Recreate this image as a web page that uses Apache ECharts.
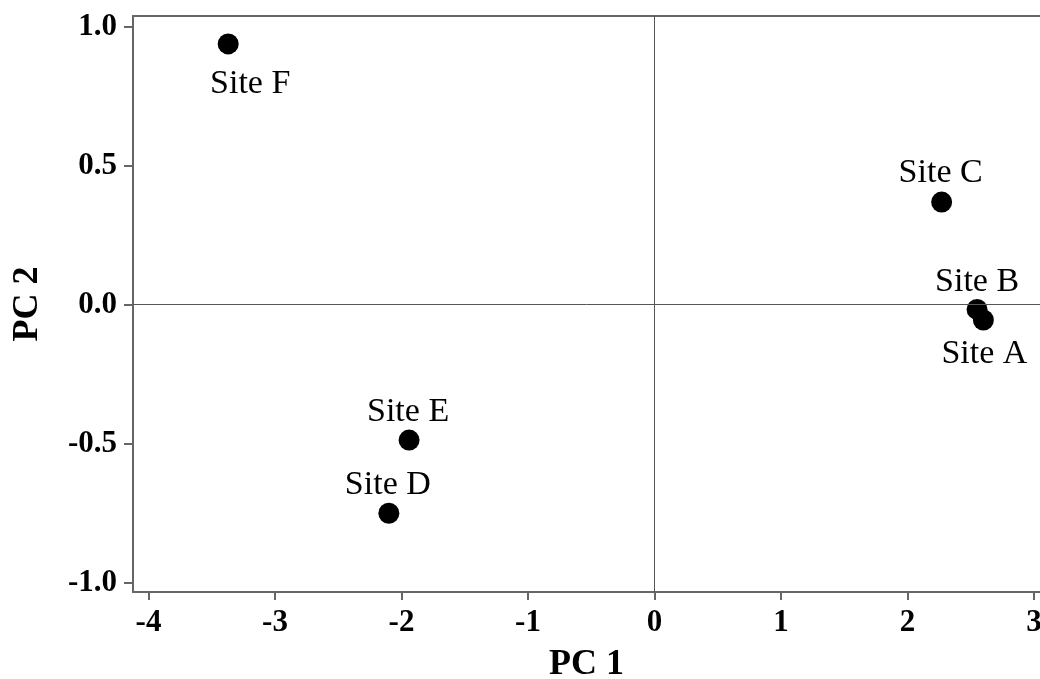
<!DOCTYPE html>
<html>
<head>
<meta charset="utf-8">
<script src="https://cdn.jsdelivr.net/npm/echarts@6/dist/echarts.min.js"></script>
<style>html,body{margin:0;padding:0;background:#fff;}#c{width:1040px;height:679px;}</style>
</head>
<body>
<div id="c"></div>
<script>
const sites = ['Site A', 'Site B', 'Site C', 'Site D', 'Site E', 'Site F'];
const pc1 = [2.60, 2.55, 2.27, -2.10, -1.94, -3.37];
const pc2 = [-0.055, -0.017, 0.369, -0.750, -0.487, 0.938];
const xTicks = [-4, -3, -2, -1, 0, 1, 2, 3];
const yTicks = [-1.0, -0.5, 0.0, 0.5, 1.0];
const labelOffsets = {
  'Site A': [1, 34], 'Site B': [0, -27], 'Site C': [-1, -29],
  'Site D': [-1, -28], 'Site E': [-1, -28], 'Site F': [22, 40]
};

const X_MIN = -4.1225, X_MAX = 3.0475, Y_MIN = -1.0334, Y_MAX = 1.0385;
const serif = '"Liberation Serif", "Times New Roman", serif';
const axisColor = '#666';

const chart = echarts.init(document.getElementById('c'), null, {renderer: 'canvas'});
const data = sites.map((s, i) => ({
  name: s,
  value: [pc1[i], pc2[i]],
  label: {offset: labelOffsets[s]}
}));

chart.setOption({
  animation: false,
  backgroundColor: '#fff',
  grid: {left: 133, right: 0, top: 16, bottom: 87, containLabel: false, outerBoundsMode: 'none'},
  xAxis: [{
    type: 'value', min: X_MIN, max: X_MAX, position: 'bottom',
    name: 'PC 1', nameLocation: 'middle', nameGap: 55,
    nameTextStyle: {fontFamily: serif, fontWeight: 'bold', fontSize: 36, color: '#000'},
    axisLine: {show: true, onZero: false, lineStyle: {color: axisColor, width: 2}},
    axisTick: {show: true, length: 8, customValues: xTicks, lineStyle: {color: axisColor, width: 2}},
    axisLabel: {customValues: xTicks, margin: 15, fontFamily: serif, fontWeight: 'bold', fontSize: 31, color: '#000',
      formatter: v => String(Math.round(v))},
    splitLine: {show: false}
  }, {
    type: 'value', min: X_MIN, max: X_MAX, position: 'top',
    axisLine: {show: true, onZero: false, lineStyle: {color: axisColor, width: 2}},
    axisTick: {show: false}, axisLabel: {show: false}, splitLine: {show: false}
  }],
  yAxis: {
    type: 'value', min: Y_MIN, max: Y_MAX,
    name: 'PC 2', nameLocation: 'middle', nameGap: 87,
    nameTextStyle: {fontFamily: serif, fontWeight: 'bold', fontSize: 36, color: '#000'},
    axisLine: {show: true, onZero: false, lineStyle: {color: axisColor, width: 2}},
    axisTick: {show: true, length: 9, customValues: yTicks, lineStyle: {color: axisColor, width: 2}},
    axisLabel: {customValues: yTicks, margin: 16, fontFamily: serif, fontWeight: 'bold', fontSize: 31, color: '#000',
      formatter: v => v.toFixed(1)},
    splitLine: {show: false}
  },
  series: [{
    type: 'scatter',
    xAxisIndex: 0,
    symbol: 'circle', symbolSize: 21,
    itemStyle: {color: '#000', opacity: 1},
    label: {show: true, position: 'inside', formatter: '{b}', fontFamily: serif, fontSize: 34, color: '#000', opacity: 1},
    emphasis: {disabled: true},
    data: data,
    markLine: {
      silent: true, symbol: ['none', 'none'], label: {show: false},
      lineStyle: {color: '#555', width: 1, type: 'solid', opacity: 1},
      data: [{xAxis: 0}, {yAxis: 0}]
    }
  }]
});
</script>
</body>
</html>
